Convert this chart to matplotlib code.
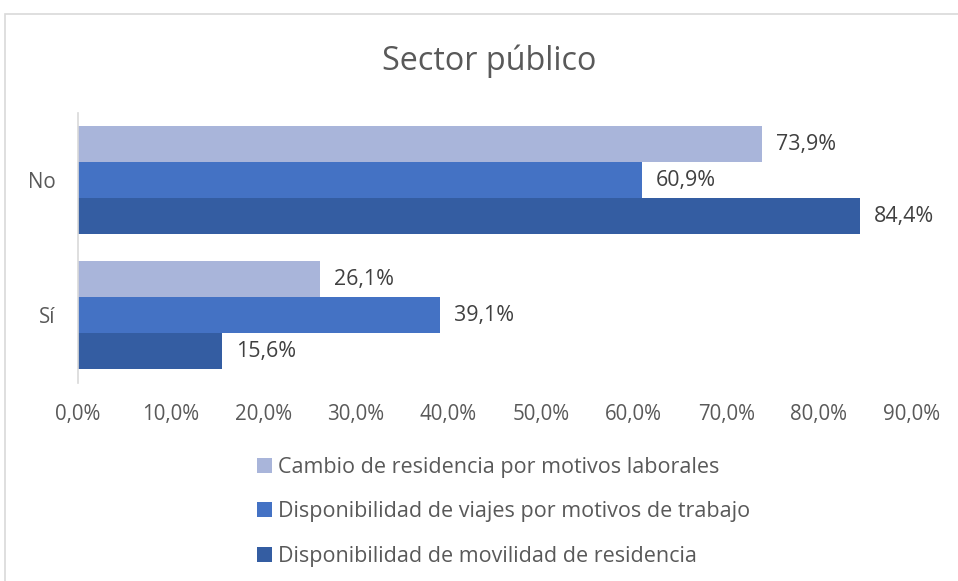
import matplotlib.pyplot as plt
from matplotlib.patches import Rectangle
import numpy as np

# ----------------------------------------------------------------------------
# Data
# ----------------------------------------------------------------------------
categories = ["Sí", "No"]
series_names = [
    "Cambio de residencia por motivos laborales",
    "Disponibilidad de viajes por motivos de trabajo",
    "Disponibilidad de movilidad de residencia",
]
cambio = [26.1, 73.9]
viajes = [39.1, 60.9]
movilidad = [15.6, 84.4]
xticks = [0, 10, 20, 30, 40, 50, 60, 70, 80, 90]

colors = ["#A9B5DA", "#4472C4", "#345DA2"]
text_col = "#595959"

plt.rcParams['font.family'] = ['Open Sans', 'DejaVu Sans']

fig = plt.figure(figsize=(9.58, 5.81), dpi=100)
ax = fig.add_axes([0.0814, 0.341, 0.870, 0.465])

# outer chart frame (cut by the image edges)
fig.patches.append(Rectangle((5 / 958, -0.05), 1.0, 1 - 14 / 581 + 0.05,
                             transform=fig.transFigure, fill=False,
                             edgecolor="#D9D9D9", linewidth=1.2))

y = np.arange(len(categories))
h = 0.267
offsets = [h, 0, -h]
for vals, off, col, name in zip([cambio, viajes, movilidad], offsets, colors, series_names):
    bars = ax.barh(y + off, vals, height=h, color=col, label=name)
    for b, v in zip(bars, vals):
        ax.annotate(f"{v:.1f}%".replace(".", ","),
                    (b.get_width(), b.get_y() + b.get_height() / 2),
                    xytext=(10, 0), textcoords="offset points",
                    ha="left", va="center", fontsize=15.4, color="#404040")

ax.set_xlim(0, 90)
ax.set_ylim(-0.5, 1.5)
ax.set_xticks(xticks)
ax.set_xticklabels([f"{t:.1f}%".replace(".", ",") for t in xticks],
                   fontsize=14.8, color=text_col)
ax.set_yticks(y)
ax.set_yticklabels(categories, fontsize=14.8, color=text_col)
ax.tick_params(axis="both", length=0)
ax.tick_params(axis="x", pad=15)
ax.tick_params(axis="y", pad=16)
for s in ["top", "right", "bottom"]:
    ax.spines[s].set_visible(False)
ax.spines["left"].set_color("#D9D9D9")
ax.spines["left"].set_linewidth(1.2)

fig.text(0.511, 0.895, "Sector público", ha="center", va="center",
         fontsize=23.3, color=text_col)

fig.legend(loc="upper left", bbox_to_anchor=(0.268, 0.213), ncol=1,
           frameon=False, fontsize=15.5, labelcolor=text_col,
           handlelength=0.7, handleheight=0.7, handletextpad=0.3,
           labelspacing=1.08, borderaxespad=0, borderpad=0)

fig.savefig("out.png", dpi=100)
